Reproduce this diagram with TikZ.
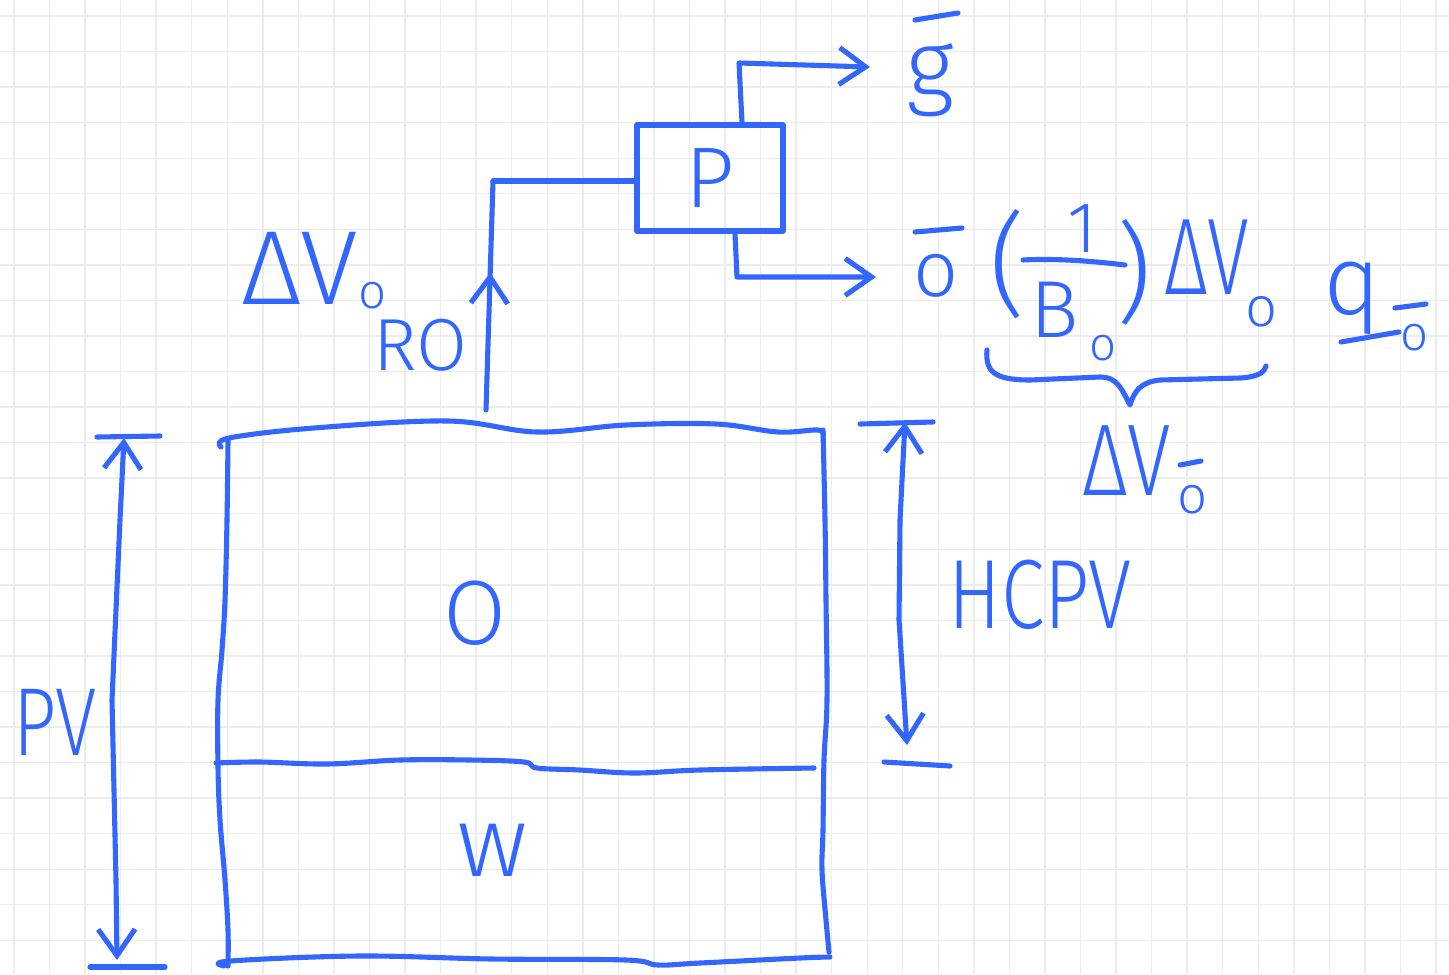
\documentclass[tikz,border=0pt]{standalone}
\usepackage{fontspec}
\usepackage{graphicx}
\setmainfont{Fira Sans}[UprightFont=* Light]
\usetikzlibrary{arrows.meta,decorations.markings}
\definecolor{ink}{RGB}{51,102,255}
\definecolor{gridc}{RGB}{236,236,236}
\newcommand{\fs}[1]{\fontsize{#1}{#1}\selectfont}
\begin{document}
\begin{tikzpicture}[x=0.02cm,y=-0.02cm,
  pen/.style={draw=ink,line width=2.9pt,line cap=round,line join=round},
  lbl/.style={text=ink,inner sep=0pt,anchor=center},
  barb/.tip={Straight Barb[length=15pt,width=21pt]},
  arr/.style={-barb},
  dim/.style={barb-barb}]
\useasboundingbox (0,0) rectangle (1449,974);
\fill[white] (0,0) rectangle (1449,974);
% grid
\foreach \i in {0,...,40} {\draw[gridc,line width=0.8pt] ({14+35.55*\i},0) -- ({14+35.55*\i},974);}
\foreach \j in {0,...,26} {\draw[gridc,line width=0.8pt] (0,{16+35.55*\j}) -- (1449,{16+35.55*\j});}

% main reservoir box
\draw[pen] plot[smooth,tension=0.6] coordinates {(221,447)(229,438)(314,428)(448,421)(537,432)(626,425)(716,424)(778,432)(818,430)(823,436)};
\draw[pen] plot[smooth,tension=0.6] coordinates {(228,440)(227,520)(225,600)(222,650)(218,700)(218,767)(220,820)(225,880)(228,930)(228,966)};
\draw[pen] plot[smooth,tension=0.6] coordinates {(823,430)(825,520)(826,600)(827,700)(824,760)(823,830)(822,870)(826,920)(829,952)};
\draw[pen] plot[smooth,tension=0.6] coordinates {(216,763)(260,762)(327,764)(400,760)(470,760)(524,762)(537,768)(580,770)(635,773)(700,770)(814,768)};
\draw[pen] plot[smooth,tension=0.6] coordinates {(224,966)(230,961)(359,956)(492,959)(626,960)(658,965)(700,963)(800,958)(830,957)};

\node[lbl] (oil) at (475,613) {\fs{52}O};
\node[lbl] (wat) at (492,850) {\fs{57}w};

% separator P
\node[pen,text=ink,draw,rectangle,minimum width=2.92cm,minimum height=2.12cm,inner sep=0pt] (P) at (710,178) {\fs{49}P};
\coordinate (roIn) at (486,410);
\coordinate (pc) at (493,181);
\draw[pen,postaction={decorate},decoration={markings,mark=at position 0.6 with {\arrow{barb}}}] (roIn) -- (pc);
\draw[pen] (pc) -- (pc -| P.west);

\coordinate (gArr) at (870,67);
\coordinate (oArr) at (876,277);
\draw[pen,arr] ([xshift=0.64cm]P.north) -- (739,63) -- (gArr);
\draw[pen,arr] ([xshift=0.5cm]P.south) -- (737,277) -- (oArr);

% outlet labels
\node[lbl,anchor=north] (g) at (930,43) {\fs{54}g};
\draw[pen] (915,20) -- (958,13);
\node[lbl] (o) at (936,276) {\fs{45}o};
\draw[pen] (915,232) -- (962,228);

% left labels
\node[lbl] (dvo) at (300,268) {\fs{60}ΔV};
\node[lbl] (dvos) at (373,296) {\fs{28}o};
\node[lbl] (ro) at (420,345) {\fs{42}RO};

% formula
\node[lbl] (lp) at (1008,264) {\fs{64}(};
\node[lbl] (one) at (1082,229) {\fs{41}1};
\draw[pen] (1023,260) .. controls (1060,258) and (1100,262) .. (1125,265);
\node[lbl] (B) at (1055,310) {\fs{46}B};
\node[lbl] (Bs) at (1103,348) {\fs{27}o};
\node[lbl] (rp) at (1134,272) {\fs{62})};
\node[lbl] (dv2) at (1207,257) {\fs{62}\scalebox{0.7}[1]{ΔV}};
\node[lbl] (dv2s) at (1262,312) {\fs{32}o};
\draw[pen] (987,350) .. controls (985,372) and (995,380) .. (1030,380) -- (1100,377) .. controls (1118,377) and (1122,390) .. (1130,405) .. controls (1134,392) and (1140,382) .. (1160,380) -- (1240,378) .. controls (1258,377) and (1265,372) .. (1266,366);
\node[lbl] (dv3) at (1127,461) {\fs{58}\scalebox{0.78}[1]{ΔV}};
\node[lbl] (dv3s) at (1193,500) {\fs{30}o};
\draw[pen] (1180,465) -- (1201,461);

\node[lbl,anchor=north] (q) at (1352,262) {\fs{56}q};
\draw[pen] (1341,342) -- (1399,332);
\node[lbl] (qs) at (1415,338) {\fs{28}o};
\draw[pen] (1395,308) -- (1426,304);

% dimension lines
\coordinate (pvTop) at (124,438);
\coordinate (pvBot) at (117,960);
\draw[pen] (97,437) -- (160,436);
\draw[pen] (90,967) -- (165,967);
\draw[pen,dim] (pvTop) -- (120,520) -- (112,700) -- (116,880) -- (pvBot);
\node[lbl] (pv) at (55,722) {\fs{55}\scalebox{0.78}[1]{PV}};

\coordinate (hTop) at (905,422);
\coordinate (hBot) at (907,745);
\draw[pen] (860,424) -- (933,422);
\draw[pen] (884,762) -- (950,766);
\draw[pen,dim] (hTop) -- (900,520) -- (899,620) -- (hBot);
\node[lbl] (hcpv) at (1040,595) {\fs{56}\scalebox{0.8}[1]{HCPV}};
\end{tikzpicture}
\end{document}
